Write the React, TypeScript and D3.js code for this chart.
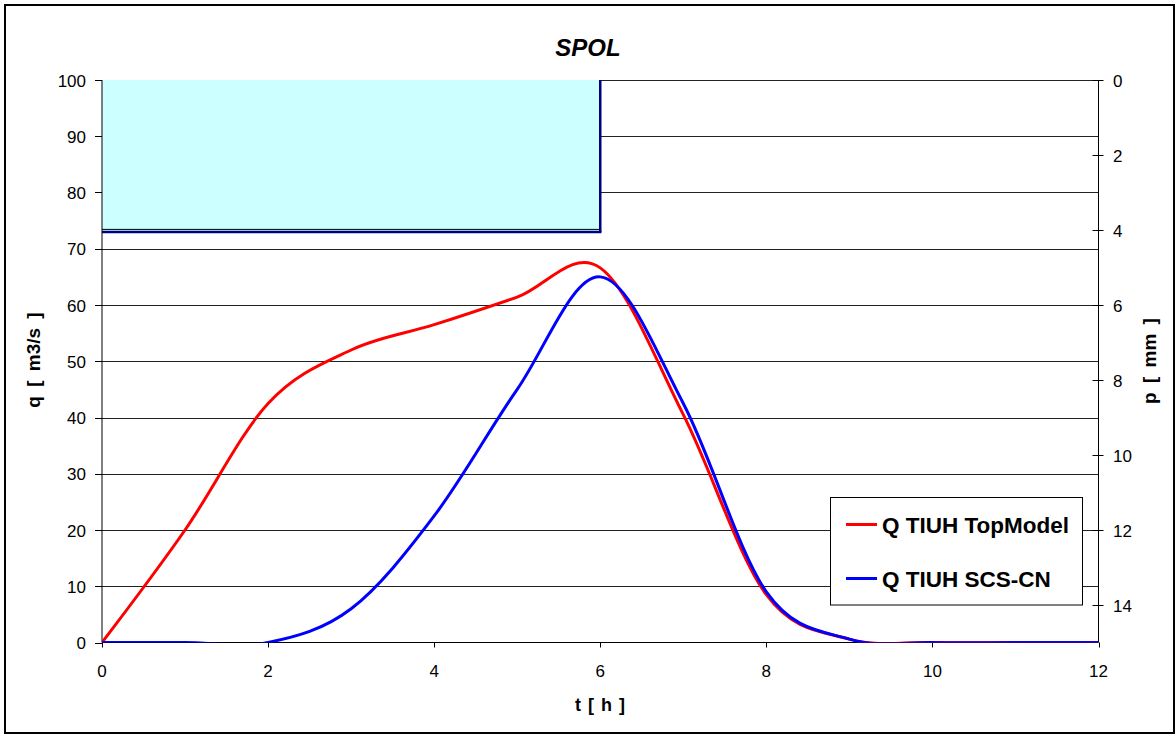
import React from 'react';
import * as d3 from 'd3';

const hours = [0, 1, 2, 3, 4, 5, 6, 7, 8, 9, 10, 11, 12];
const qTopModel = [0, 20, 42.5, 52, 56.5, 61.4, 66.6, 40.5, 8.5, 0.6, 0, 0, 0];
const qScsCn = [0, 0, 0, 6, 22.5, 45, 65, 42.5, 9, 0.6, 0, 0, 0];
const rainStart = [0];
const rainEnd = [6];
const rainDepth = [4.05];
const qTicks = [0, 10, 20, 30, 40, 50, 60, 70, 80, 90, 100];
const pTicks = [0, 2, 4, 6, 8, 10, 12, 14];
const tTicks = [0, 2, 4, 6, 8, 10, 12];
const seriesNames = ['Q TIUH TopModel', 'Q TIUH SCS-CN'];
const seriesColors = ['#FF0000', '#0000FF'];
const title = 'SPOL';
const xTitle = 't [ h ]';
const yTitle = 'q [ m3/s ]';
const y2Title = 'p [ mm ]';

const FONT = 'Arial, "Liberation Sans", sans-serif';

export default function App() {
  const L = 102, R = 1098.5, T = 80, B = 642.5;
  const x = d3.scaleLinear().domain([0, 12]).range([L, R]);
  const y = d3.scaleLinear().domain([0, 100]).range([B, T]);
  const y2 = d3.scaleLinear().domain([0, 15]).range([T, B]);
  const line = d3
    .line<number>()
    .x((_, i) => x(hours[i]))
    .y((d) => y(d))
    .curve(d3.curveCatmullRom.alpha(0));
  const series = [qTopModel, qScsCn];

  return (
    <svg
      width={1176}
      height={734}
      style={{ position: 'absolute', left: 0, top: 0, background: '#fff' }}
      fontFamily={FONT}
    >
      <defs>
        <clipPath id="plotClip">
          <rect x={L} y={T - 5} width={R - L} height={B - T + 5} />
        </clipPath>
      </defs>
      <rect x={0} y={0} width={1176} height={734} fill="#fff" />
      <rect x={5} y={5} width={1169} height={728} fill="none" stroke="#000" strokeWidth={2} />

      {/* gridlines */}
      {qTicks.filter((v) => v > 0).map((v) => (
        <line key={'g' + v} x1={L} x2={R} y1={Math.round(y(v)) + 0.5} y2={Math.round(y(v)) + 0.5} stroke="#222" strokeWidth={1} />
      ))}

      {/* rain bars */}
      {rainDepth.map((d, i) => {
        const x0 = x(rainStart[i]);
        const x1 = x(rainEnd[i]);
        const yb = y2(d);
        return (
          <g key={'r' + i}>
            <rect x={x0} y={T} width={x1 - x0} height={yb - T} fill="#CCFFFF" />
            <line x1={x0} x2={x1} y1={yb - 2.5} y2={yb - 2.5} stroke="#000" strokeWidth={1} />
            <line x1={x0} x2={x1 + 1.2} y1={yb} y2={yb} stroke="#000080" strokeWidth={2.5} />
            <line x1={x1} x2={x1} y1={T} y2={yb} stroke="#000080" strokeWidth={2.5} />
          </g>
        );
      })}

      {/* axes */}
      <line x1={L} x2={L} y1={T} y2={B} stroke="#000" strokeWidth={1} />
      <line x1={R} x2={R} y1={T} y2={B} stroke="#000" strokeWidth={1} />
      <line x1={L} x2={R} y1={B} y2={B} stroke="#000" strokeWidth={1} />

      {qTicks.map((v) => (
        <g key={'q' + v}>
          <line x1={L - 7} x2={L} y1={Math.round(y(v)) + 0.5} y2={Math.round(y(v)) + 0.5} stroke="#000" />
          <text x={86} y={y(v) + 6.5} fontSize={17} textAnchor="end" fill="#000">{v}</text>
        </g>
      ))}
      {pTicks.map((v) => (
        <g key={'p' + v}>
          <line x1={R - 6} x2={R + 5} y1={Math.round(y2(v)) + 0.5} y2={Math.round(y2(v)) + 0.5} stroke="#000" />
          <text x={1113} y={y2(v) + 6.5} fontSize={17} textAnchor="start" fill="#000">{v}</text>
        </g>
      ))}
      {tTicks.map((v) => (
        <g key={'t' + v}>
          <line x1={Math.round(x(v)) + 0.5} x2={Math.round(x(v)) + 0.5} y1={B} y2={B + 5} stroke="#000" />
          <text x={x(v)} y={677} fontSize={17} textAnchor="middle" fill="#000">{v}</text>
        </g>
      ))}

      {/* series */}
      <g clipPath="url(#plotClip)">
        {series.map((s, i) => (
          <path key={'s' + i} d={line(s) || ''} fill="none" stroke={seriesColors[i]} strokeWidth={3} strokeLinejoin="round" />
        ))}
      </g>

      {/* titles */}
      <text x={588} y={56} fontSize={24} fontWeight="bold" fontStyle="italic" textAnchor="middle">{title}</text>
      <text x={600} y={711} fontSize={18} fontWeight="bold" textAnchor="middle" wordSpacing={2}>{xTitle}</text>
      <text transform="translate(40,360) rotate(-90)" fontSize={19} fontWeight="bold" textAnchor="middle" wordSpacing={4}>{yTitle}</text>
      <text transform="translate(1156,361) rotate(-90)" fontSize={19} fontWeight="bold" textAnchor="middle" wordSpacing={4}>{y2Title}</text>

      {/* legend */}
      <rect x={830.5} y={497.5} width={252} height={107.5} fill="#fff" stroke="#000" strokeWidth={1} />
      {seriesNames.map((n, i) => (
        <g key={'l' + i}>
          <line x1={846} x2={877} y1={524.5 + i * 54} y2={524.5 + i * 54} stroke={seriesColors[i]} strokeWidth={3} />
          <text x={882} y={533 + i * 54} fontSize={22.5} fontWeight="bold" fill="#000">{n}</text>
        </g>
      ))}
    </svg>
  );
}
